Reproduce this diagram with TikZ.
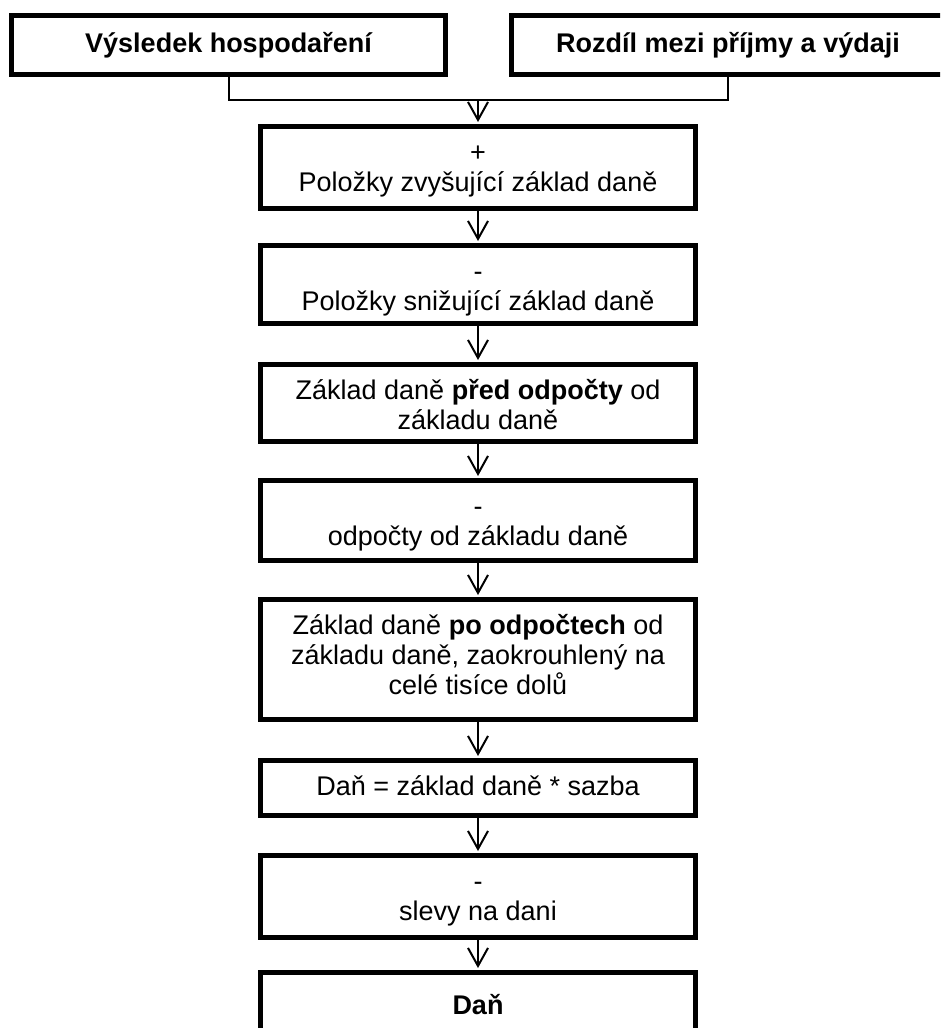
\documentclass[tikz,border=0pt]{standalone}
\usepackage{fontspec}
\setmainfont{Liberation Sans}
\usetikzlibrary{arrows.meta}
% text sits at the top of the box, first baseline 35pt below the frame
\newcommand{\dantext}[2]{\parbox[c][#1][t]{435pt}{\centering\rule{0pt}{35pt}#2}}
\tikzset{
  taxbox/.style  = {draw, rectangle, line width=5pt, inner sep=0pt,
                    font=\fontsize{27}{30}\selectfont},
  headbox/.style = {taxbox, minimum width=434pt, minimum height=59pt,
                    font=\fontsize{27}{30}\selectfont\bfseries},
  joinline/.style = {line width=2pt},
  EdgeArrow/.style = {line width=2pt, shorten >=2pt,
                      -{Straight Barb[length=18pt,width=20pt,line width=2pt]}}
}

\begin{document}
\begin{tikzpicture}[x=1pt,y=-1pt]
	\clip (0,0) rectangle (940,1028);
	% vstupy
	\node[headbox] (VH) at (228.5,45) {Výsledek hospodaření};
	\node[headbox] (RPV) at (728,45) {Rozdíl mezi příjmy a výdaji};
	\coordinate (J) at (478,100);
	% postup vypoctu
	\node[taxbox] (B1) at (478,167.5) {\dantext{82pt}{+\\Položky zvyšující základ daně}};
	\node[taxbox] (B2) at (478,284.5) {\dantext{78pt}{-\\Položky snižující základ daně}};
	\node[taxbox] (B3) at (478,403) {\dantext{77pt}{Základ daně \textbf{před odpočty} od\\základu daně}};
	\node[taxbox] (B4) at (478,520.5) {\dantext{80pt}{-\\odpočty od základu daně}};
	\node[taxbox] (B5) at (478,659.5) {\dantext{120pt}{Základ daně \textbf{po odpočtech} od\\základu daně, zaokrouhlený na\\celé tisíce dolů}};
	\node[taxbox] (B6) at (478,788) {\dantext{55pt}{Daň = základ daně * sazba}};
	\node[taxbox] (B7) at (478,896.5) {\dantext{82pt}{-\\slevy na dani}};
	\node[taxbox, minimum width=435pt, minimum height=65pt] (B8) at (478,1005) {\textbf{Daň}};
	% spojnice
	\draw[joinline] (VH.south) |- (J);
	\draw[joinline] (RPV.south) |- (J);
	\draw[EdgeArrow] (J) -- (B1.north);
	\foreach \a/\b in {B1/B2,B2/B3,B3/B4,B4/B5,B5/B6,B6/B7,B7/B8}
		\draw[EdgeArrow] (\a.south) -- (\b.north);
\end{tikzpicture}
\end{document}
